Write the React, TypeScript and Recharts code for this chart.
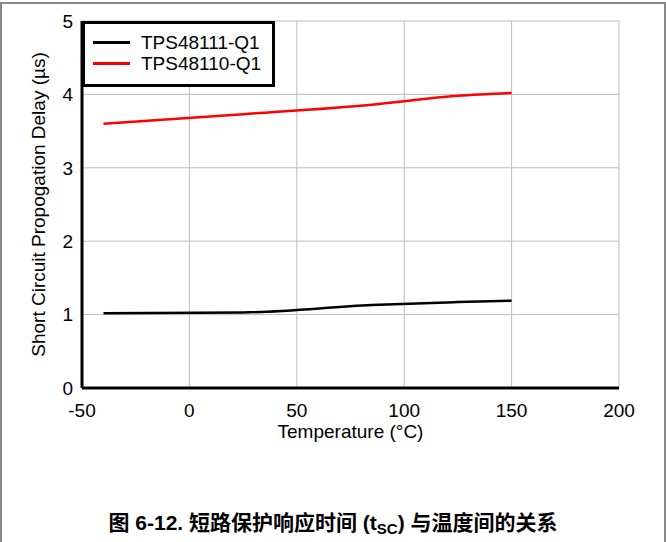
import { CartesianGrid, Legend, Line, LineChart, XAxis, YAxis } from "recharts";

const temperatures = [-40, 25, 85, 125, 150];
const tps48111Delay = [1.02, 1.03, 1.13, 1.17, 1.19];
const tps48110Delay = [3.6, 3.73, 3.86, 3.98, 4.02];
const seriesNames = ["TPS48111-Q1", "TPS48110-Q1"];
const seriesColors = ["#000000", "#ff0000"];
const xTicks = [-50, 0, 50, 100, 150, 200];
const yTicks = [0, 1, 2, 3, 4, 5];

const data = temperatures.map((t, i) => ({
  temp: t,
  q111: tps48111Delay[i],
  q110: tps48110Delay[i],
}));

const font = "'Liberation Sans', Arial, sans-serif";

// legend drawn in series order, boxed like the datasheet plot
const renderLegend = () => (
  <div
    style={{
      width: 187,
      height: 52,
      paddingTop: 8,
      border: "3px solid #000",
      background: "#fff",
      boxSizing: "content-box",
    }}
  >
    {seriesNames.map((name, i) => (
      <div key={name} style={{ display: "flex", alignItems: "center", height: 21, fontFamily: font, fontSize: 19, color: "#000", lineHeight: "21px" }}>
        <span style={{ display: "inline-block", width: 37, height: 3, background: seriesColors[i], marginLeft: 8, marginRight: 11 }} />
        {name}
      </div>
    ))}
  </div>
);

export default function App() {
  return (
    <div style={{ position: "fixed", left: 0, top: 0, width: 666, height: 542, background: "#fff", overflow: "hidden" }}>
      <div
        style={{
          position: "absolute",
          left: 0,
          top: 2,
          width: 662,
          height: 600,
          border: "2px solid #888",
          borderBottom: "none",
        }}
      />
      <LineChart width={666} height={542} data={data} margin={{ top: 21, right: 47, bottom: 104, left: 0 }}>
        <CartesianGrid stroke="#bdbdbd" strokeWidth={1} />
        <XAxis
          dataKey="temp"
          type="number"
          domain={[-50, 200]}
          ticks={xTicks}
          height={50}
          tickLine={false}
          tickSize={8}
          tickMargin={8}
          axisLine={{ stroke: "#000", strokeWidth: 3 }}
          tick={{ fill: "#000", fontSize: 19, fontFamily: font }}
          label={{ value: "Temperature (°C)", position: "insideBottom", offset: 0, fill: "#000", fontSize: 19, fontFamily: font }}
        />
        <XAxis xAxisId="top" orientation="top" type="number" domain={[-50, 200]} height={0} tick={false} tickLine={false} axisLine={{ stroke: "#000", strokeWidth: 3 }} />
        <YAxis
          type="number"
          domain={[0, 5]}
          ticks={yTicks}
          width={82}
          tickLine={false}
          tickSize={4}
          tickMargin={5}
          axisLine={{ stroke: "#000", strokeWidth: 3 }}
          tick={{ fill: "#000", fontSize: 19, fontFamily: font }}
          label={{
            value: "Short Circuit Propogation Delay (µs)",
            angle: -90,
            position: "insideLeft",
            offset: 38,
            fill: "#000",
            fontSize: 19,
            fontFamily: font,
            style: { textAnchor: "middle" },
          }}
        />
        <YAxis yAxisId="right" orientation="right" type="number" domain={[0, 5]} width={0} tick={false} tickLine={false} axisLine={{ stroke: "#000", strokeWidth: 3 }} />
        <Legend
          content={renderLegend}
          layout="vertical"
          align="center"
          verticalAlign="middle"
          wrapperStyle={{ left: 82, top: 21, width: "auto" }}
        />
        <Line name={seriesNames[0]} dataKey="q111" type="monotone" stroke={seriesColors[0]} strokeWidth={2.5} dot={false} isAnimationActive={false} />
        <Line name={seriesNames[1]} dataKey="q110" type="monotone" stroke={seriesColors[1]} strokeWidth={2.5} dot={false} isAnimationActive={false} />
      </LineChart>
      <div
        style={{
          position: "absolute",
          left: 0,
          top: 512,
          width: 666,
          textAlign: "center",
          fontFamily: "'Liberation Sans', 'Noto Sans CJK SC', sans-serif",
          fontWeight: "bold",
          fontSize: 21,
          lineHeight: "21px",
          color: "#000",
        }}
      >
        图 6-12. 短路保护响应时间 (t<sub style={{ fontSize: 15, verticalAlign: -4, lineHeight: 0 }}>SC</sub>) 与温度间的关系
      </div>
    </div>
  );
}
